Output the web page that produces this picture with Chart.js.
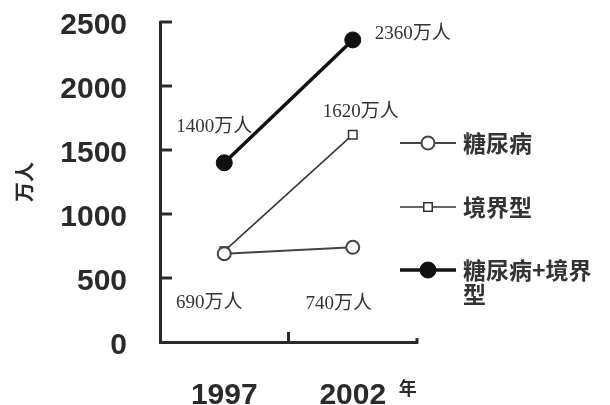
<!DOCTYPE html>
<html>
<head>
<meta charset="utf-8">
<script src="https://cdn.jsdelivr.net/npm/chart.js@4"></script>
<style>
html,body{margin:0;padding:0;background:#fff}
#wrap{width:610px;height:405px}
</style>
</head>
<body>
<div id="wrap"><canvas id="myChart"></canvas></div>
<script>
// values (万人)
var years = ['1997', '2002'];
var tonyo = [690, 740];          // 糖尿病
var kyokai = [710, 1620];        // 境界型
var total = [1400, 2360];        // 糖尿病+境界型
var yTicks = [0, 500, 1000, 1500, 2000, 2500];
var names = ['糖尿病', '境界型', '糖尿病+境界型'];
var unit = '万人';

var tickFont = {family: "'Liberation Sans', Arial, sans-serif", size: 30, weight: 'bold'};
// y labels sit a few px below their tick in the original, done with an empty first line
var yTickFont = {family: "'Liberation Sans', Arial, sans-serif", size: 30, weight: 'bold', lineHeight: 0.28};
var ink = '#2a2a2a';

// where the value labels sit around their point (dataset, index, dx, dy)
var labelSpots = [
	{ds: 2, i: 0, dx: -10, dy: -36, align: 'center'},
	{ds: 2, i: 1, dx: 22, dy: -6, align: 'left'},
	{ds: 1, i: 1, dx: 8, dy: -23, align: 'center'},
	{ds: 0, i: 0, dx: -15, dy: 49, align: 'center'},
	{ds: 0, i: 1, dx: -14, dy: 57, align: 'center'}
];

var extras = {
	id: 'extras',
	afterDraw: function(chart) {
		var ctx = chart.ctx;
		var ca = chart.chartArea;
		var xs = chart.scales.x, ys = chart.scales.y;
		ctx.save();
		ctx.strokeStyle = ink;
		ctx.lineWidth = 3;
		// inward ticks on y axis
		yTicks.forEach(function(v) {
			var py = ys.getPixelForValue(v);
			if (v === 0) return;
			ctx.beginPath();
			ctx.moveTo(ca.left, py);
			ctx.lineTo(ca.left + 12, py);
			ctx.stroke();
		});
		// category boundary ticks on x axis
		var mid = (xs.getPixelForValue(0) + xs.getPixelForValue(1)) / 2;
		ctx.beginPath();
		ctx.moveTo(mid, ca.bottom);
		ctx.lineTo(mid, ca.bottom - 10);
		ctx.moveTo(ca.right, ca.bottom + 1.5);
		ctx.lineTo(ca.right, ca.bottom - 4);
		ctx.stroke();

		// unit after last year
		ctx.fillStyle = ink;
		ctx.font = "bold 18px 'Noto Sans CJK SC'";
		ctx.textAlign = 'left';
		ctx.textBaseline = 'middle';
		ctx.fillText('年', xs.getPixelForValue(1) + 46, ca.bottom + 46);

		// value labels
		ctx.font = "19px 'Liberation Serif', 'Noto Sans CJK SC', serif";
		ctx.fillStyle = '#333';
		labelSpots.forEach(function(s) {
			var pt = chart.getDatasetMeta(s.ds).data[s.i];
			var v = chart.data.datasets[s.ds].data[s.i];
			ctx.textAlign = s.align;
			ctx.fillText(v + unit, pt.x + s.dx, pt.y + s.dy);
		});

		// legend on the right
		var lx = 400, lw = 56, tx = 463;
		var rows = [143, 207, 270];
		chart.data.datasets.forEach(function(d, k) {
			var y = rows[k];
			ctx.strokeStyle = d.borderColor;
			ctx.lineWidth = d.borderWidth;
			ctx.beginPath();
			ctx.moveTo(lx, y);
			ctx.lineTo(lx + lw, y);
			ctx.stroke();
			ctx.lineWidth = d.pointBorderWidth;
			ctx.fillStyle = d.pointBackgroundColor;
			ctx.beginPath();
			if (d.pointStyle === 'rect') {
				var r = d.pointRadius * Math.SQRT1_2;
				ctx.rect(lx + 28 - r, y - r, 2 * r, 2 * r);
			} else {
				ctx.arc(lx + 28, y, d.pointRadius, 0, Math.PI * 2);
			}
			ctx.fill();
			ctx.stroke();
			ctx.fillStyle = '#333';
			ctx.font = "bold 23px 'Noto Sans CJK SC'";
			ctx.textAlign = 'left';
			var label = d.label;
			if (label.length > 6) {
				ctx.fillText(label.slice(0, 6), tx, y);
				ctx.fillText(label.slice(6), tx, y + 24);
			} else {
				ctx.fillText(label, tx, y);
			}
		});
		ctx.restore();
	}
};

function renderChart() {
	var ctx = document.getElementById('myChart').getContext('2d');
	new Chart(ctx, {
		type: 'line',
		data: {
			labels: years,
			datasets: [{
				label: names[0],
				data: tonyo,
				borderColor: '#444',
				borderWidth: 2,
				pointStyle: 'circle',
				pointRadius: 6.5,
				pointBorderWidth: 2,
				pointBackgroundColor: '#fff',
				pointBorderColor: '#444'
			}, {
				label: names[1],
				data: kyokai,
				borderColor: '#333',
				borderWidth: 1.5,
				pointStyle: 'rect',
				pointRadius: 6,
				pointBorderWidth: 1.5,
				pointBackgroundColor: '#fff',
				pointBorderColor: '#333'
			}, {
				label: names[2],
				data: total,
				borderColor: '#111',
				borderWidth: 3.5,
				pointStyle: 'circle',
				pointRadius: 8,
				pointBorderWidth: 1,
				pointBackgroundColor: '#111',
				pointBorderColor: '#111'
			}]
		},
		options: {
			responsive: true,
			maintainAspectRatio: false,
			animation: false,
			layout: {padding: {left: 0, right: 193, top: 22, bottom: 0}},
			plugins: {legend: {display: false}, tooltip: {enabled: false}},
			scales: {
				x: {
					offset: true,
					grid: {display: false, drawTicks: false},
					border: {display: true, color: ink, width: 3},
					ticks: {color: ink, font: tickFont, padding: 36},
					afterFit: function(s) { s.height = 63; s.paddingLeft = 0; s.paddingRight = 0; }
				},
				y: {
					min: 0,
					max: 2500,
					afterBuildTicks: function(s) { s.ticks = yTicks.map(function(v) { return {value: v}; }); },
					grid: {display: false, drawTicks: false},
					border: {display: true, color: ink, width: 3},
					ticks: {color: ink, font: yTickFont, padding: 33, callback: function(v) { return ['', String(v)]; }},
					title: {
						display: true,
						text: unit,
						color: ink,
						font: {family: "'Noto Sans CJK SC'", size: 20, weight: 'bold'},
						padding: {top: 12, bottom: 0}
					},
					afterFit: function(s) { s.width = 160; s.paddingTop = 0; s.paddingBottom = 0; }
				}
			}
		},
		plugins: [extras]
	});
}
renderChart();
</script>
</body>
</html>
